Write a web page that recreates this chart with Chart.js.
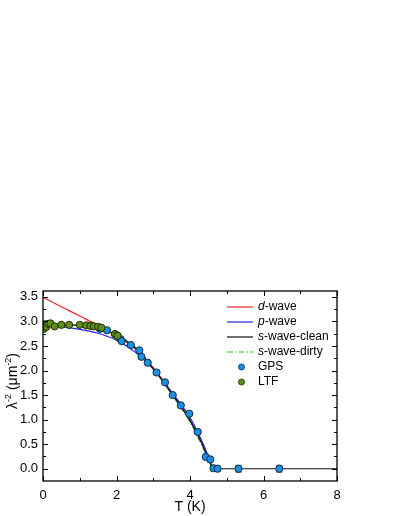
<!DOCTYPE html>
<html>
<head>
<meta charset="utf-8">
<script src="https://cdn.jsdelivr.net/npm/chart.js@4/dist/chart.umd.min.js"></script>
<style>
  html, body { margin: 0; padding: 0; background: #fff; }
  #wrap { width: 399px; height: 516px; }
</style>
</head>
<body>
<div id="wrap"><canvas id="lambdaChart" width="399" height="516"></canvas></div>
<script>
const gpsT   = [1.55, 1.74, 1.96, 2.11, 2.14, 2.39, 2.62, 2.68, 2.85, 3.09, 3.32, 3.53, 3.75, 3.98, 4.21, 4.43, 4.55, 4.64, 4.75, 5.32, 6.43];
const gpsL   = [2.85, 2.82, 2.74, 2.64, 2.60, 2.52, 2.41, 2.28, 2.16, 1.96, 1.76, 1.50, 1.29, 1.12, 0.75, 0.24, 0.19, 0.01, 0.00, 0.00, 0.00];
const gpsErr = [0.02, 0.02, 0.02, 0.02, 0.02, 0.02, 0.03, 0.03, 0.03, 0.03, 0.03, 0.03, 0.03, 0.04, 0.04, 0.05, 0.05, 0.05, 0.05, 0.07, 0.07];

const ltfT = [0.02, 0.05, 0.09, 0.14, 0.20, 0.32, 0.50, 0.71, 1.00, 1.18, 1.29, 1.38, 1.50, 1.59, 1.96, 2.03];
const ltfL = [2.85, 2.94, 2.89, 2.95, 2.96, 2.90, 2.93, 2.93, 2.93, 2.92, 2.91, 2.90, 2.89, 2.87, 2.74, 2.71];

// fit curves, sampled from the figure
const curveT  = [0, 0.5, 1.0, 1.5, 2.0, 2.5, 3.0, 3.5, 4.0, 4.3, 4.5, 4.62];
const dWave   = [3.49, 3.30, 3.11, 2.92, 2.70, 2.45, 2.06, 1.56, 0.99, 0.56, 0.22, 0];
const pWave   = [2.91, 2.89, 2.84, 2.76, 2.62, 2.38, 2.03, 1.56, 1.04, 0.60, 0.25, 0];
const sClean  = [2.93, 2.93, 2.92, 2.87, 2.73, 2.47, 2.04, 1.53, 0.98, 0.55, 0.20, 0];
const sDirty  = [2.93, 2.93, 2.91, 2.86, 2.72, 2.48, 2.05, 1.52, 0.95, 0.51, 0.18, 0];
const cleanTailT = [4.62, 8];
const cleanTailL = [0, 0];

const xTicks = [0, 2, 4, 6, 8];
const yTicks = [0.0, 0.5, 1.0, 1.5, 2.0, 2.5, 3.0, 3.5];
const xMinor = [1, 3, 5, 7];
const yMinor = [0.25, 0.75, 1.25, 1.75, 2.25, 2.75, 3.25];

const toPts = (xs, ys) => xs.map((x, i) => ({ x: x, y: ys[i] }));

const FONT = '"Liberation Sans", Arial, sans-serif';

const curveStyle = (color, extra) => Object.assign({
  type: 'line',
  borderColor: color,
  backgroundColor: color,
  borderWidth: 1.2,
  pointRadius: 0,
  fill: false,
  cubicInterpolationMode: 'monotone',
  order: 2
}, extra || {});

const datasets = [
  curveStyle('#e8262a', { label: 'd-wave', data: toPts(curveT, dWave), order: 4 }),
  curveStyle('#2424e6', { label: 'p-wave', data: toPts(curveT, pWave), order: 3 }),
  curveStyle('#21ce21', { label: 's-wave-dirty', data: toPts(curveT, sDirty), borderDash: [6, 2, 1.5, 2], order: 2 }),
  curveStyle('#111111', { label: 's-wave-clean', data: toPts(curveT, sClean), order: 1 }),
  curveStyle('#111111', { label: 'clean-tail', data: toPts(cleanTailT, cleanTailL), cubicInterpolationMode: 'default', tension: 0, order: 1 }),
  {
    type: 'scatter', label: 'LTF', data: toPts(ltfT, ltfL),
    backgroundColor: '#5f8f16', borderColor: '#1e2a0a', borderWidth: 1,
    pointRadius: 3.6, order: 0
  },
  {
    type: 'scatter', label: 'GPS', data: toPts(gpsT, gpsL), errors: gpsErr,
    backgroundColor: '#1b8fe0', borderColor: '#0b2c4a', borderWidth: 1,
    pointRadius: 3.6, order: 0
  }
];

// error bars, frame, inward ticks, axis titles and legend
const decorPlugin = {
  id: 'decor',
  beforeDatasetsDraw(chart) {
    const ctx = chart.ctx, xs = chart.scales.x, ys = chart.scales.y;
    const ds = chart.data.datasets.find(d => d.label === 'GPS');
    ctx.save();
    ctx.strokeStyle = '#555';
    ctx.lineWidth = 1;
    ds.data.forEach((p, i) => {
      const e = ds.errors[i];
      const px = xs.getPixelForValue(p.x);
      const y1 = ys.getPixelForValue(p.y + e), y2 = ys.getPixelForValue(p.y - e);
      ctx.beginPath();
      ctx.moveTo(px, y1); ctx.lineTo(px, y2);
      ctx.moveTo(px - 3, y1); ctx.lineTo(px + 3, y1);
      ctx.moveTo(px - 3, y2); ctx.lineTo(px + 3, y2);
      ctx.stroke();
    });
    ctx.restore();
  },
  afterDraw(chart) {
    const ctx = chart.ctx, a = chart.chartArea, xs = chart.scales.x, ys = chart.scales.y;
    ctx.save();
    ctx.strokeStyle = '#000';
    ctx.lineWidth = 1.3;
    ctx.strokeRect(a.left, a.top, a.right - a.left, a.bottom - a.top);
    ctx.lineWidth = 1;
    ctx.beginPath();
    const tickX = (v, len) => {
      const px = Math.round(xs.getPixelForValue(v)) + 0.5;
      ctx.moveTo(px, a.bottom); ctx.lineTo(px, a.bottom - len);
      ctx.moveTo(px, a.top); ctx.lineTo(px, a.top + len);
    };
    const tickY = (v, len) => {
      const py = Math.round(ys.getPixelForValue(v)) + 0.5;
      ctx.moveTo(a.left, py); ctx.lineTo(a.left + len, py);
      ctx.moveTo(a.right, py); ctx.lineTo(a.right - len, py);
    };
    xTicks.forEach(v => tickX(v, 5));
    xMinor.forEach(v => tickX(v, 3));
    yTicks.forEach(v => tickY(v, 5));
    yMinor.forEach(v => tickY(v, 3));
    ctx.stroke();

    // x title
    ctx.fillStyle = '#000';
    ctx.font = '14px ' + FONT;
    ctx.textAlign = 'center';
    ctx.textBaseline = 'alphabetic';
    ctx.fillText('T (K)', (a.left + a.right) / 2, 511);

    // y title with superscripts
    const parts = [['λ', false], ['-2', true], [' (μm', false], ['-2', true], [')', false]];
    const fontOf = sup => (sup ? '9px ' : '14px ') + FONT;
    let total = 0;
    parts.forEach(([t, sup]) => { ctx.font = fontOf(sup); total += ctx.measureText(t).width; });
    ctx.translate(17, 381);
    ctx.rotate(-Math.PI / 2);
    ctx.textAlign = 'left';
    let cx = -total / 2;
    parts.forEach(([t, sup]) => {
      ctx.font = fontOf(sup);
      ctx.fillText(t, cx, sup ? -6 : 0);
      cx += ctx.measureText(t).width;
    });
    ctx.setTransform(1, 0, 0, 1, 0, 0);

    // legend
    const entries = [
      { pre: 'd', rest: '-wave', color: '#e8262a', kind: 'line' },
      { pre: 'p', rest: '-wave', color: '#2424e6', kind: 'line' },
      { pre: 's', rest: '-wave-clean', color: '#111111', kind: 'line' },
      { pre: 's', rest: '-wave-dirty', color: '#21ce21', kind: 'dash' },
      { pre: '', rest: 'GPS', color: '#1b8fe0', kind: 'dot', edge: '#0b2c4a' },
      { pre: '', rest: 'LTF', color: '#5f8f16', kind: 'dot', edge: '#1e2a0a' }
    ];
    const x0 = 227, x1 = 253, tx = 258;
    entries.forEach((en, i) => {
      const y = 307 + i * 15;
      if (en.kind === 'dot') {
        ctx.beginPath();
        ctx.arc(241.5, y, 3, 0, Math.PI * 2);
        ctx.fillStyle = en.color; ctx.fill();
        ctx.strokeStyle = en.edge; ctx.lineWidth = 0.8; ctx.stroke();
      } else {
        ctx.beginPath();
        ctx.strokeStyle = en.color; ctx.lineWidth = 1.2;
        ctx.setLineDash(en.kind === 'dash' ? [6, 2, 1.5, 2] : []);
        ctx.moveTo(x0, y); ctx.lineTo(x1, y); ctx.stroke();
        ctx.setLineDash([]);
      }
      ctx.fillStyle = '#000';
      ctx.textBaseline = 'middle';
      let px = tx;
      if (en.pre) {
        ctx.font = 'italic 12px ' + FONT;
        ctx.fillText(en.pre, px, y);
        px += ctx.measureText(en.pre).width;
      }
      ctx.font = '12px ' + FONT;
      ctx.fillText(en.rest, px, y);
    });
    ctx.restore();
  }
};

const ctx = document.getElementById('lambdaChart').getContext('2d');
const lambdaChart = new Chart(ctx, {
  data: { datasets },
  options: {
    responsive: false,
    animation: false,
    layout: { padding: { left: 0, top: 291, right: 62, bottom: 0 } },
    plugins: { legend: { display: false }, tooltip: { enabled: false } },
    scales: {
      x: {
        type: 'linear', min: 0, max: 8,
        grid: { display: false, drawTicks: false },
        border: { display: false },
        afterBuildTicks: s => { s.ticks = xTicks.map(v => ({ value: v })); },
        afterFit: s => { s.height = 35; },
        ticks: { color: '#000', padding: 7, maxRotation: 0, font: { family: FONT, size: 13 } }
      },
      y: {
        type: 'linear', min: -0.25, max: 3.62,
        grid: { display: false, drawTicks: false },
        border: { display: false },
        afterBuildTicks: s => { s.ticks = yTicks.map(v => ({ value: v })); },
        afterFit: s => { s.width = 43; },
        ticks: { color: '#000', padding: 5, font: { family: FONT, size: 13 }, callback: v => v.toFixed(1) }
      }
    }
  },
  plugins: [decorPlugin]
});
</script>
</body>
</html>
